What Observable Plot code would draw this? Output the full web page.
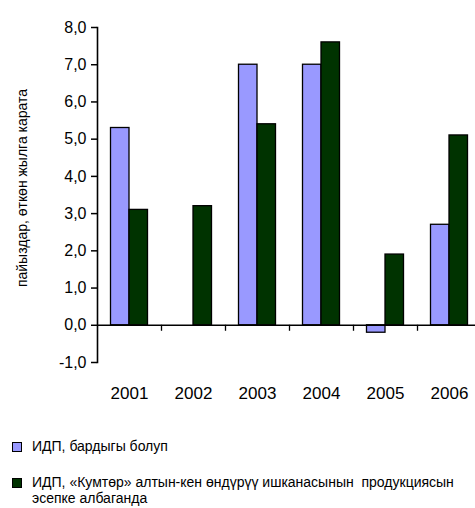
<!DOCTYPE html>
<html>
<head>
<meta charset="utf-8">
<script src="https://cdn.jsdelivr.net/npm/d3@7"></script>
<script src="https://cdn.jsdelivr.net/npm/@observablehq/plot@0.6"></script>
<style>
  html, body { margin: 0; padding: 0; background: #fff; }
  #wrap { position: relative; width: 475px; height: 508px; font-family: "Liberation Sans", Arial, sans-serif; color: #000; overflow: hidden; }
  #chart { position: absolute; left: 0; top: 0; }
  .ytitle { position: absolute; left: 22px; top: 188px; transform: translate(-50%, -50%) rotate(-90deg); white-space: nowrap; font-size: 14px; }
  .legend { position: absolute; left: 12px; top: 0; font-size: 14px; line-height: 16px; white-space: pre; }
  .sw { position: absolute; left: 0; width: 8px; height: 8px; border: 1px solid #000; }
  .lt { position: absolute; left: 20px; }
</style>
</head>
<body>
<div id="wrap">
  <div id="chart"></div>
  <div class="ytitle">пайыздар, өткөн жылга карата</div>
  <div class="legend" id="legend"></div>
</div>
<script>
const years = ["2001", "2002", "2003", "2004", "2005", "2006"];
const seriesNames = [
  "ИДП, бардыгы болуп",
  "ИДП, «Кумтөр» алтын-кен өндүрүү ишканасынын  продукциясын\nэсепке албаганда"
];
const seriesColors = ["#9999FF", "#003300"];
const gdpTotal = [5.3, null, 7.0, 7.0, -0.2, 2.7];
const gdpExKumtor = [3.1, 3.2, 5.4, 7.6, 1.9, 5.1];
const yTicks = [-1, 0, 1, 2, 3, 4, 5, 6, 7, 8];

const rowsA = years.map((y, i) => ({year: y, value: gdpTotal[i]})).filter(d => d.value != null);
const rowsB = years.map((y, i) => ({year: y, value: gdpExKumtor[i]}));

const band = 64, barW = 18.5;
const inset = (band - barW) / 2;

const plot = Plot.plot({
  width: 475,
  height: 420,
  marginLeft: 97,
  marginRight: 0,
  marginTop: 27,
  marginBottom: 58,
  style: {fontFamily: '"Liberation Sans", Arial, sans-serif', color: "#000", background: "#fff"},
  x: {type: "band", domain: years, range: [97, 481], padding: 0, axis: null},
  y: {domain: [-1, 8], axis: null},
  marks: [
    Plot.barY(rowsA, {x: "year", y: "value", fill: seriesColors[0], stroke: "#000", strokeWidth: 1.3, insetLeft: inset, insetRight: inset, dx: -barW / 2}),
    Plot.barY(rowsB, {x: "year", y: "value", fill: seriesColors[1], stroke: "#000", strokeWidth: 1.3, insetLeft: inset, insetRight: inset, dx: barW / 2}),
    Plot.ruleY([0], {stroke: "#000", strokeWidth: 1.6}),
    Plot.ruleX(years.slice(1), {x: d => d, dx: -band / 2, y1: 0, y2: 0, insetBottom: -6, stroke: "#000", strokeWidth: 1.3}),
    Plot.frame({anchor: "left", stroke: "#000", strokeWidth: 1.6}),
    Plot.axisY({ticks: yTicks, tickFormat: d => d.toFixed(1).replace(".", ","), tickSize: 6, tickPadding: 5, fontSize: 16, label: null, strokeWidth: 1.5}),
    Plot.axisX({ticks: years, tickSize: 0, tickPadding: 24, fontSize: 17, label: null})
  ]
});
document.getElementById("chart").appendChild(plot);

const legend = document.getElementById("legend");
const tops = [438, 474];
seriesNames.forEach((name, i) => {
  const sw = document.createElement("div");
  sw.className = "sw";
  sw.style.top = (tops[i] + 4) + "px";
  sw.style.background = seriesColors[i];
  const t = document.createElement("div");
  t.className = "lt";
  t.style.top = tops[i] + "px";
  t.textContent = name;
  legend.appendChild(sw);
  legend.appendChild(t);
});
</script>
</body>
</html>
